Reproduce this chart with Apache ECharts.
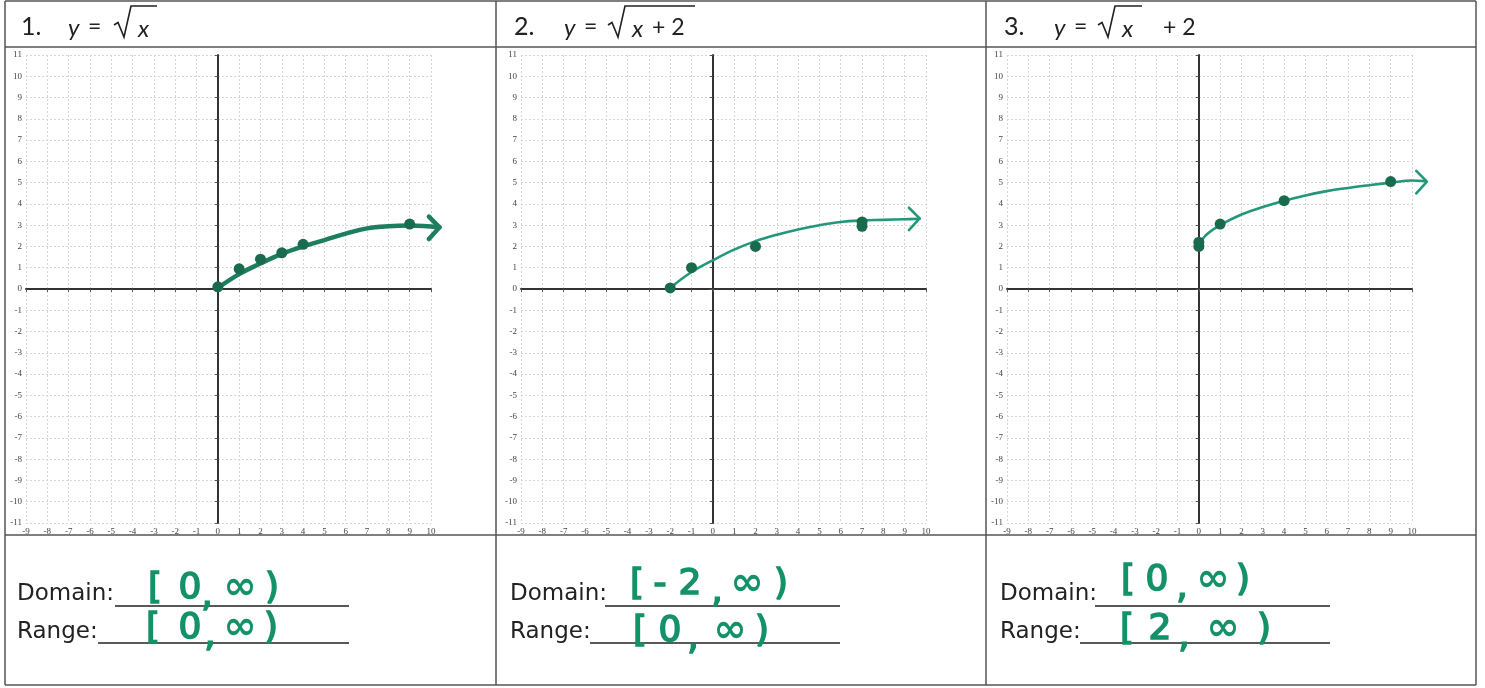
<!DOCTYPE html>
<html>
<head>
<meta charset="utf-8">
<script src="https://cdn.jsdelivr.net/npm/echarts@6/dist/echarts.min.js"></script>
<style>
  html, body { margin: 0; padding: 0; background: #fff; }
  #chart { width: 1485px; height: 688px; }
</style>
</head>
<body>
<div id="chart"></div>
<script>
// Axis extents shared by all three graphs
const xRange = [-9, 10];
const yRange = [-11, 11];

// 1. y = sqrt(x)
const p1Points = [[0, 0.1], [1, 0.95], [2, 1.4], [3, 1.7], [4, 2.1], [9, 3.05]];
const p1Curve = [[0, 0.05], [1, 0.7], [2, 1.2], [3, 1.65], [4, 2.0], [5, 2.3], [6, 2.6], [7, 2.85], [8, 2.95], [9, 2.98], [10.4, 2.9]];
const p1Tip = [10.4, 2.9];

// 2. y = sqrt(x + 2)
const p2Points = [[-2, 0.05], [-1, 1], [2, 2], [7, 3.15], [7, 2.95]];
const p2Curve = [[-2, 0.05], [-1, 0.8], [0, 1.35], [1, 1.85], [2, 2.25], [3, 2.55], [4, 2.8], [5, 3.0], [6, 3.15], [7, 3.22], [8, 3.25], [9, 3.28], [9.7, 3.3]];
const p2Tip = [9.7, 3.32];

// 3. y = sqrt(x) + 2
const p3Points = [[0, 2.0], [0, 2.2], [1, 3.05], [4, 4.15], [9, 5.05]];
const p3Curve = [[0, 2.0], [0.3, 2.5], [1, 3.0], [2, 3.5], [3, 3.85], [4, 4.15], [5, 4.4], [6, 4.6], [7, 4.75], [8, 4.88], [9, 5.0], [10, 5.1], [10.6, 5.07]];
const p3Tip = [10.7, 5.05];

// Written answers
const domainAnswers = ['[0,∞)', '[-2,∞)', '[0,∞)'];
const rangeAnswers = ['[0,∞)', '[0,∞)', '[2,∞)'];

const panels = [
  { points: p1Points, curve: p1Curve, tip: p1Tip, width: 4.5, color: '#1c7e5f' },
  { points: p2Points, curve: p2Curve, tip: p2Tip, width: 2.6, color: '#22977a' },
  { points: p3Points, curve: p3Curve, tip: p3Tip, width: 2.6, color: '#22977a' }
];

const gridLefts = [26, 521, 1007];
const GRID_W = 405;
// the pen strokes run one unit past the printed grid, so they sit on an
// overlay grid whose x scale is the same but reaches x = 11
const PEN_X_MAX = 11;
const GREEN = '#149168';
const INK = '#222';

const chart = echarts.init(document.getElementById('chart'), null, { renderer: 'canvas' });

const grids = [], xAxes = [], yAxes = [], series = [];
const axisLabelStyle = { fontFamily: 'Liberation Serif', fontSize: 9, color: '#444' };
const gridLine = { show: true, lineStyle: { color: '#d6d6d6', width: 1, type: [2, 2] } };

panels.forEach((p, i) => {
  grids.push({ left: gridLefts[i], top: 55, width: GRID_W, height: 468 });
  xAxes.push({
    type: 'value', gridIndex: i, min: xRange[0], max: xRange[1], interval: 1,
    axisLine: { onZero: true, lineStyle: { color: '#333', width: 2 } },
    axisTick: { show: true, length: 3, inside: false, lineStyle: { color: '#555' } },
    axisLabel: Object.assign({ margin: 4 }, axisLabelStyle),
    splitLine: gridLine
  });
  yAxes.push({
    type: 'value', gridIndex: i, min: yRange[0], max: yRange[1], interval: 1,
    axisLine: { onZero: true, lineStyle: { color: '#333', width: 2 } },
    axisTick: { show: true, length: 3, lineStyle: { color: '#555' } },
    axisLabel: Object.assign({ margin: 4 }, axisLabelStyle),
    splitLine: gridLine
  });
});

panels.forEach((p, i) => {
  const g = i + 3;
  const span = xRange[1] - xRange[0];
  grids.push({ left: gridLefts[i], top: 55, width: GRID_W * (PEN_X_MAX - xRange[0]) / span, height: 468 });
  xAxes.push({ type: 'value', gridIndex: g, min: xRange[0], max: PEN_X_MAX, interval: 1, show: false, splitLine: { show: false } });
  yAxes.push({ type: 'value', gridIndex: g, min: yRange[0], max: yRange[1], interval: 1, show: false, splitLine: { show: false } });
  series.push({
    type: 'line', xAxisIndex: g, yAxisIndex: g, data: p.curve, smooth: 0.4,
    showSymbol: false, lineStyle: { color: p.color, width: p.width, cap: 'round' },
    z: 3, silent: true
  });
  const t = p.tip;
  series.push({
    type: 'line', xAxisIndex: g, yAxisIndex: g,
    data: [[t[0] - 0.5, t[1] + 0.5], t, [t[0] - 0.5, t[1] - 0.55]],
    showSymbol: false, lineStyle: { color: p.color, width: p.width, cap: 'round', join: 'round' },
    z: 3, silent: true
  });
  series.push({
    type: 'scatter', xAxisIndex: g, yAxisIndex: g, data: p.points,
    symbolSize: 11, itemStyle: { color: '#1a6a4e', opacity: 1 }, z: 4, silent: true
  });
});

// Table frame
const colX = [5, 496, 986, 1476];
const rowY = [1, 47, 535, 685];
const frame = [];
rowY.forEach(y => frame.push({ type: 'line', shape: { x1: colX[0], y1: y, x2: colX[3], y2: y }, style: { stroke: '#555', lineWidth: 1.5 } }));
colX.forEach(x => frame.push({ type: 'line', shape: { x1: x, y1: rowY[0], x2: x, y2: rowY[3] }, style: { stroke: '#555', lineWidth: 1.5 } }));

// Header formulas
const hFont = '23px Lato';
const hItal = 'italic 24px Lato';
function txt(x, y, s, font, color, align) {
  return { type: 'text', x: x, y: y, style: { text: s, font: font, fill: color || INK, textAlign: align || 'left', textVerticalAlign: 'middle' } };
}
// radical sign with its vinculum running from x0 to x1
function radical(x0, x1) {
  return {
    type: 'polyline',
    shape: { points: [[x0, 25], [x0 + 4, 22.5], [x0 + 10, 37], [x0 + 17, 6], [x1, 6]] },
    style: { stroke: INK, fill: null, lineWidth: 1.6, lineJoin: 'miter' }
  };
}
const header = [
  txt(21, 27, '1.', '25px Lato'), txt(68, 28, 'y', hItal), txt(88, 27, '=', hFont), radical(114, 157), txt(138, 29, 'x', hItal),
  txt(514, 27, '2.', '25px Lato'), txt(564, 28, 'y', hItal), txt(584, 27, '=', hFont), radical(608, 695), txt(632, 29, 'x', hItal), txt(652, 28, '+ 2', hFont),
  txt(1004, 27, '3.', '25px Lato'), txt(1054, 28, 'y', hItal), txt(1074, 27, '=', hFont), radical(1098, 1142), txt(1122, 29, 'x', hItal), txt(1163, 28, '+ 2', hFont)
];

// Footer: Domain / Range blanks with answers
const footer = [];
const labelX = [17, 510, 1000];
const domLine = [[115, 349], [605, 840], [1095, 1330]];
const rngLine = [[98, 349], [590, 840], [1080, 1330]];
const domCenters = [[155, 190, 207, 240, 272], [637, 660, 690, 717, 747, 781], [1128, 1157, 1182, 1213, 1243]];
const rngCenters = [[153, 190, 210, 240, 271], [640, 670, 693, 730, 762], [1127, 1160, 1184, 1223, 1264]];
const domY = [589, 585, 581];
const rngY = [629, 632, 630];
const lblFont = '23px DejaVu Sans';
const ansFont = '36px DejaVu Sans';
function answerGlyph(x, y, c) {
  const font = c === '∞' ? 'bold 40px DejaVu Sans' : ansFont;
  return {
    type: 'text', x: x, y: y + (c === ',' ? 8 : 0),
    style: { text: c, font: font, fill: GREEN, stroke: GREEN, lineWidth: c === '∞' ? 0 : 1.6, textAlign: 'center', textVerticalAlign: 'middle' }
  };
}
for (let i = 0; i < 3; i++) {
  footer.push(txt(labelX[i], 594, 'Domain:', lblFont));
  footer.push(txt(labelX[i], 632, 'Range:', lblFont));
  footer.push({ type: 'line', shape: { x1: domLine[i][0], y1: 606, x2: domLine[i][1], y2: 606 }, style: { stroke: INK, lineWidth: 1.5 } });
  footer.push({ type: 'line', shape: { x1: rngLine[i][0], y1: 643, x2: rngLine[i][1], y2: 643 }, style: { stroke: INK, lineWidth: 1.5 } });
  Array.from(domainAnswers[i]).forEach((c, k) => footer.push(answerGlyph(domCenters[i][k], domY[i], c)));
  Array.from(rangeAnswers[i]).forEach((c, k) => footer.push(answerGlyph(rngCenters[i][k], rngY[i], c)));
}

chart.setOption({
  animation: false,
  backgroundColor: '#fff',
  grid: grids,
  xAxis: xAxes,
  yAxis: yAxes,
  series: series,
  graphic: frame.concat(header, footer)
});
</script>
</body>
</html>
